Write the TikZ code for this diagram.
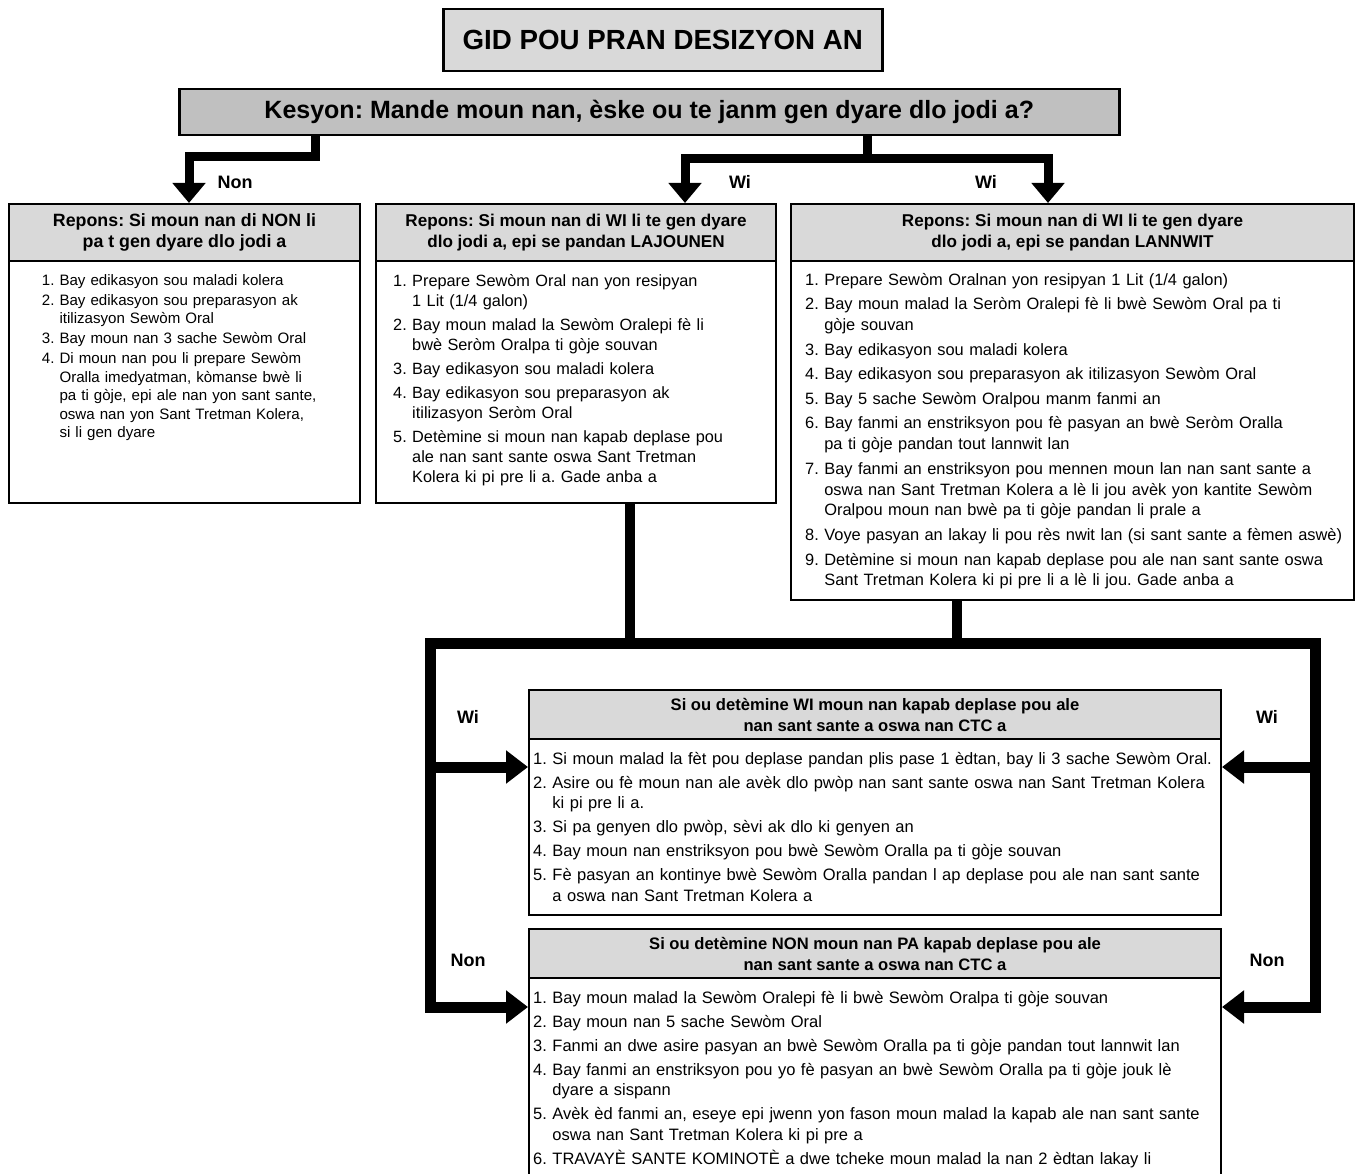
\documentclass[tikz,border=0pt]{standalone}
\usepackage{fontspec}
\setmainfont{Liberation Sans}
\usetikzlibrary{arrows.meta}
\definecolor{hdrgray}{HTML}{D9D9D9}
\definecolor{qgray}{HTML}{C0C0C0}
\frenchspacing
\newcommand\itm[2]{\setbox0\hbox{#1.\ }\hangindent=\wd0\hangafter=1\noindent\box0 #2\par}
\begin{document}
\begin{tikzpicture}[x=1pt,y=-1pt,
  boxo/.style={draw, line width=2pt, fill=white, inner sep=0pt, anchor=north west},
  hdr/.style={draw, line width=2pt, fill=hdrgray, inner sep=0pt, anchor=north west, align=center},
  txt/.style={inner sep=0pt, anchor=base west, align=left},
  conn/.style={line width=9pt, line join=miter, -{Triangle[width=32pt,length=20pt]}},
  stem/.style={line width=10pt, line join=miter},
  frame/.style={line width=11pt, line join=miter, -{Triangle[width=32pt,length=22pt]}},
  lbl/.style={font=\fontsize{18}{20}\selectfont\bfseries, inner sep=0pt}]
\useasboundingbox (0,0) rectangle (1356,1174);
\fill[white] (0,0) rectangle (1356,1174);

% title and question
\node[draw, line width=2.5pt, fill=hdrgray, anchor=north west, minimum width=439pt, minimum height=62pt, inner sep=0pt,
  font=\fontsize{27.7}{30}\selectfont\bfseries] (title) at (442,8) {GID POU PRAN DESIZYON AN};
\node[draw, line width=2.5pt, fill=qgray, anchor=north west, minimum width=940pt, minimum height=46pt, inner sep=0pt,
  font=\fontsize{25}{28}\selectfont\bfseries] (q) at (178,88) {Kesyon: Mande moun nan, èske ou te janm gen dyare dlo jodi a?};

% box 1
\node[boxo, minimum width=351pt, minimum height=299pt] (b1) at (8,203) {};
\node[hdr, minimum width=351pt, minimum height=57pt, font=\fontsize{17.8}{21.5}\selectfont\bfseries] (h1) at (8,203)
  {Repons: Si moun nan di NON li\\pa t gen dyare dlo jodi a};
\node[txt, text width=330pt, font=\fontsize{15.1}{18.5}\selectfont] (t1) at (41.7,285) {\setlength\parskip{1.5pt}%
\itm{1}{Bay edikasyon sou maladi kolera}
\itm{2}{Bay edikasyon sou preparasyon ak\newline itilizasyon Sewòm Oral}
\itm{3}{Bay moun nan 3 sache Sewòm Oral}
\itm{4}{Di moun nan pou li prepare Sewòm\newline Oralla imedyatman, kòmanse bwè li\newline pa ti gòje, epi ale nan yon sant sante,\newline oswa nan yon Sant Tretman Kolera,\newline si li gen dyare}};

% box 2
\node[boxo, minimum width=400pt, minimum height=299pt] (b2) at (375,203) {};
\node[hdr, minimum width=400pt, minimum height=57pt, font=\fontsize{17.1}{21.5}\selectfont\bfseries] (h2) at (375,203)
  {Repons: Si moun nan di WI li te gen dyare\\dlo jodi a, epi se pandan LAJOUNEN};
\node[txt, text width=400pt, font=\fontsize{16.3}{20}\selectfont] (t2) at (393,286) {\setlength\parskip{4pt}%
\itm{1}{Prepare Sewòm Oral nan yon resipyan\newline 1 Lit (1/4 galon)}
\itm{2}{Bay moun malad la Sewòm Oralepi fè li\newline bwè Seròm Oralpa ti gòje souvan}
\itm{3}{Bay edikasyon sou maladi kolera}
\itm{4}{Bay edikasyon sou preparasyon ak\newline itilizasyon Seròm Oral}
\itm{5}{Detèmine si moun nan kapab deplase pou\newline ale nan sant sante oswa Sant Tretman\newline Kolera ki pi pre li a. Gade anba a}};

% box 3
\node[boxo, minimum width=563pt, minimum height=396pt] (b3) at (790,203) {};
\node[hdr, minimum width=563pt, minimum height=57pt, font=\fontsize{17.1}{21.5}\selectfont\bfseries] (h3) at (790,203)
  {Repons: Si moun nan di WI li te gen dyare\\dlo jodi a, epi se pandan LANNWIT};
\node[txt, text width=600pt, font=\fontsize{16.4}{20.8}\selectfont] (t3) at (805,285) {\setlength\parskip{3.8pt}%
\itm{1}{Prepare Sewòm Oralnan yon resipyan 1 Lit (1/4 galon)}
\itm{2}{Bay moun malad la Seròm Oralepi fè li bwè Sewòm Oral pa ti\newline gòje souvan}
\itm{3}{Bay edikasyon sou maladi kolera}
\itm{4}{Bay edikasyon sou preparasyon ak itilizasyon Sewòm Oral}
\itm{5}{Bay 5 sache Sewòm Oralpou manm fanmi an}
\itm{6}{Bay fanmi an enstriksyon pou fè pasyan an bwè Seròm Oralla\newline pa ti gòje pandan tout lannwit lan}
\itm{7}{Bay fanmi an enstriksyon pou mennen moun lan nan sant sante a\newline oswa nan Sant Tretman Kolera a lè li jou avèk yon kantite Sewòm\newline Oralpou moun nan bwè pa ti gòje pandan li prale a}
\itm{8}{Voye pasyan an lakay li pou rès nwit lan (si sant sante a fèmen aswè)}
\itm{9}{Detèmine si moun nan kapab deplase pou ale nan sant sante oswa\newline Sant Tretman Kolera ki pi pre li a lè li jou. Gade anba a}};

% box 4
\node[boxo, minimum width=692pt, minimum height=225pt] (b4) at (528,689) {};
\node[hdr, minimum width=692pt, minimum height=49pt, font=\fontsize{16.6}{21}\selectfont\bfseries] (h4) at (528,689)
  {Si ou detèmine WI moun nan kapab deplase pou ale\\nan sant sante a oswa nan CTC a};
\node[txt, text width=700pt, font=\fontsize{16.5}{20.5}\selectfont] (t4) at (533,764) {\setlength\parskip{3.5pt}%
\itm{1}{Si moun malad la fèt pou deplase pandan plis pase 1 èdtan, bay li 3 sache Sewòm Oral.}
\itm{2}{Asire ou fè moun nan ale avèk dlo pwòp nan sant sante oswa nan Sant Tretman Kolera\newline ki pi pre li a.}
\itm{3}{Si pa genyen dlo pwòp, sèvi ak dlo ki genyen an}
\itm{4}{Bay moun nan enstriksyon pou bwè Sewòm Oralla pa ti gòje souvan}
\itm{5}{Fè pasyan an kontinye bwè Sewòm Oralla pandan l ap deplase pou ale nan sant sante\newline a oswa nan Sant Tretman Kolera a}};

% box 5
\node[boxo, minimum width=692pt, minimum height=300pt] (b5) at (528,928) {};
\node[hdr, minimum width=692pt, minimum height=49pt, font=\fontsize{16.6}{21}\selectfont\bfseries] (h5) at (528,928)
  {Si ou detèmine NON moun nan PA kapab deplase pou ale\\nan sant sante a oswa nan CTC a};
\node[txt, text width=700pt, font=\fontsize{16.5}{20.5}\selectfont] (t5) at (533,1003) {\setlength\parskip{3.5pt}%
\itm{1}{Bay moun malad la Sewòm Oralepi fè li bwè Sewòm Oralpa ti gòje souvan}
\itm{2}{Bay moun nan 5 sache Sewòm Oral}
\itm{3}{Fanmi an dwe asire pasyan an bwè Sewòm Oralla pa ti gòje pandan tout lannwit lan}
\itm{4}{Bay fanmi an enstriksyon pou yo fè pasyan an bwè Sewòm Oralla pa ti gòje jouk lè\newline dyare a sispann}
\itm{5}{Avèk èd fanmi an, eseye epi jwenn yon fason moun malad la kapab ale nan sant sante\newline oswa nan Sant Tretman Kolera ki pi pre a}
\itm{6}{TRAVAYÈ SANTE KOMINOTÈ a dwe tcheke moun malad la nan 2 èdtan lakay li}};

% top connectors
\coordinate (k1) at (315,157);
\coordinate (k2) at (189,157);
\coordinate (k3) at (867,159);
\coordinate (k4) at (685,159);
\coordinate (k5) at (1048,159);
\draw[conn] (q.south -| k1) -- (k1) -- (k2) -- (b1.north -| k2);
\draw[conn] (q.south -| k3) -- (k3) -| (b2.north -| k4);
\draw[conn] (q.south -| k3) -- (k3) -| (b3.north -| k5);

% bottom connectors
\coordinate (m2) at (630,643);
\coordinate (m3) at (957,643);
\coordinate (L) at (430,643);
\coordinate (R) at (1315,643);
\coordinate (ya) at (0,767);
\coordinate (yb) at (0,1007);
\draw[stem] (b2.south -| m2) -- (m2);
\draw[stem] (b3.south -| m3) -- (m3);
\draw[frame] (R) -- (L) |- (b5.west |- yb);
\draw[frame] (L) -- (R) |- (b5.east |- yb);
\draw[frame] (L) |- (b4.west |- ya);
\draw[frame] (R) |- (b4.east |- ya);

% labels
\node[lbl] (nonA) at (235,182) {Non};
\node[lbl] (wiA) at (740,182) {Wi};
\node[lbl] (wiB) at (986,182) {Wi};
\node[lbl] (wiL) at (468,717) {Wi};
\node[lbl] (wiR) at (1267,717) {Wi};
\node[lbl] (nonL) at (468,960) {Non};
\node[lbl] (nonR) at (1267,960) {Non};
\end{tikzpicture}
\end{document}
